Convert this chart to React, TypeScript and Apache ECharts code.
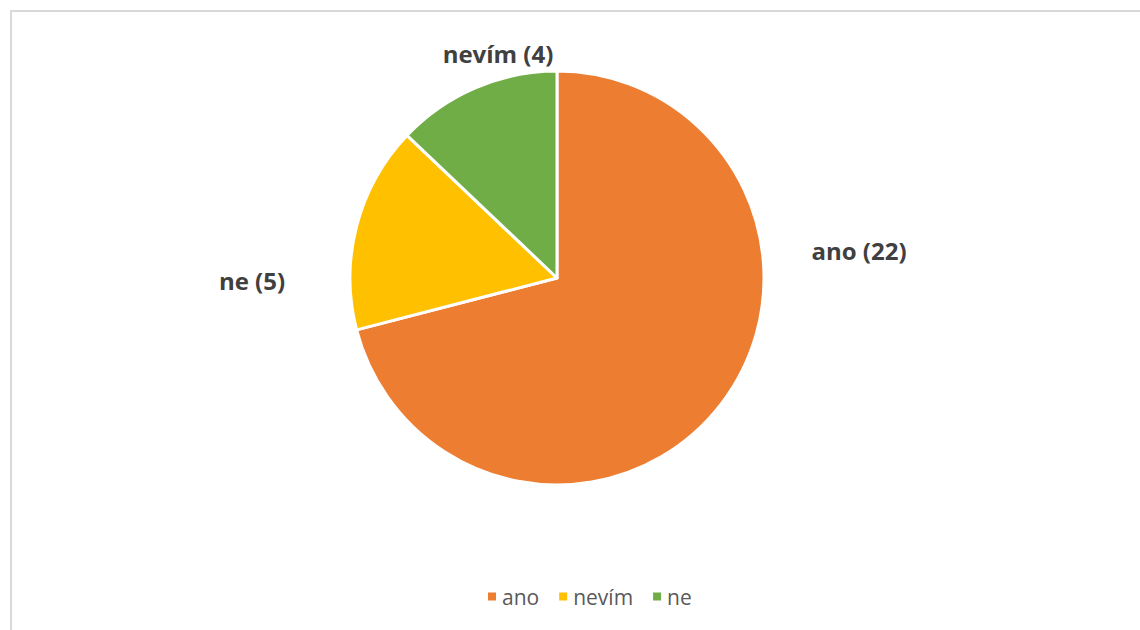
import React, { useEffect, useRef } from "react";
import * as echarts from "echarts";

const categories = ["ano", "nevím", "ne"];
const values = [22, 5, 4];
const labelNames = ["ano", "ne", "nevím"];
const colors = ["#ED7D31", "#FFC000", "#70AD47"];

const labelPos = [
  { x: 859, y: 250 },
  { x: 252, y: 280 },
  { x: 498, y: 53 },
];

export default function App() {
  const ref = useRef<HTMLDivElement>(null);
  useEffect(() => {
    if (!ref.current) return;
    const chart = echarts.init(ref.current, undefined, { renderer: "svg" });
    chart.setOption({
      animation: false,
      backgroundColor: "#ffffff",
      textStyle: { fontFamily: "Open Sans" },
      graphic: [
        {
          type: "polyline",
          shape: { points: [[11, 640], [11, 11], [1150, 11]] },
          style: { stroke: "#d9d9d9", lineWidth: 2, fill: null },
          silent: true,
        },
      ],
      legend: {
        bottom: 18,
        left: 481,
        itemWidth: 10,
        itemHeight: 10,
        itemGap: 18,
        icon: "rect",
        data: categories,
        textStyle: { fontSize: 21, color: "#595959", fontFamily: "Open Sans" },
      },
      series: [
        {
          type: "pie",
          center: [557, 278],
          radius: 207,
          startAngle: 90,
          clockwise: true,
          data: categories.map((c, i) => ({
            name: c,
            value: values[i],
            itemStyle: { color: colors[i] },
          })),
          itemStyle: { borderColor: "#ffffff", borderWidth: 3 },
          label: {
            show: true,
            position: "outside",
            formatter: (p: any) => `${labelNames[p.dataIndex]} (${p.value})`,
            fontSize: 24,
            fontWeight: "bold",
            color: "#404040",
            fontFamily: "Open Sans",
          },
          labelLine: { show: false },
          labelLayout: (p: any) => ({
            x: labelPos[p.dataIndex].x,
            y: labelPos[p.dataIndex].y,
            align: "center",
            verticalAlign: "middle",
          }),
          emphasis: { disabled: true },
        },
      ],
    });
    return () => chart.dispose();
  }, []);
  return (
    <div
      ref={ref}
      style={{ position: "fixed", left: 0, top: 0, width: 1140, height: 630 }}
    />
  );
}
